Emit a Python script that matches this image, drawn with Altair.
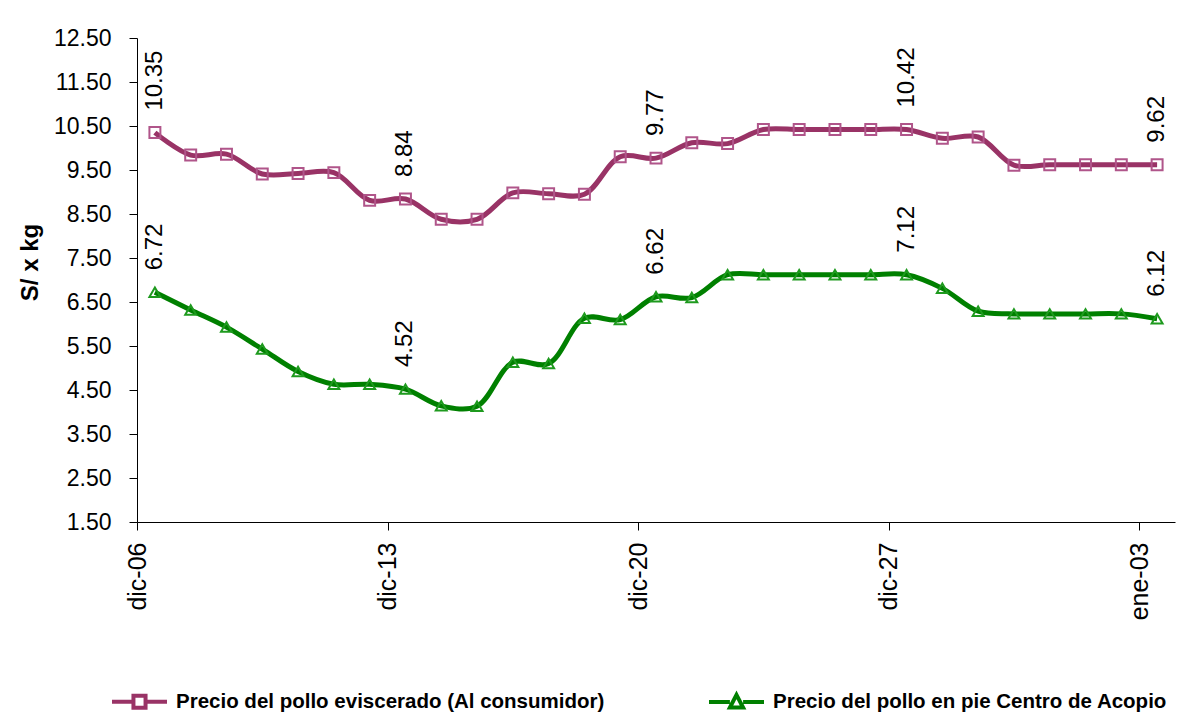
import altair as alt
import pandas as pd

dates = ["dic-06", "dic-07", "dic-08", "dic-09", "dic-10", "dic-11", "dic-12",
         "dic-13", "dic-14", "dic-15", "dic-16", "dic-17", "dic-18", "dic-19",
         "dic-20", "dic-21", "dic-22", "dic-23", "dic-24", "dic-25", "dic-26",
         "dic-27", "dic-28", "dic-29", "dic-30", "dic-31", "ene-01", "ene-02",
         "ene-03"]

eviscerado = [10.35, 9.84, 9.86, 9.41, 9.42, 9.44, 8.81, 8.84, 8.38, 8.38,
              8.98, 8.96, 8.95, 9.80, 9.77, 10.12, 10.10, 10.42, 10.42, 10.42,
              10.42, 10.42, 10.22, 10.25, 9.61, 9.62, 9.62, 9.62, 9.62]

en_pie = [6.72, 6.32, 5.93, 5.43, 4.92, 4.63, 4.63, 4.52, 4.14, 4.13,
          5.13, 5.10, 6.13, 6.10, 6.62, 6.60, 7.12, 7.12, 7.12, 7.12,
          7.12, 7.12, 6.81, 6.29, 6.23, 6.23, 6.23, 6.23, 6.12]

series = ["Precio del pollo eviscerado (Al consumidor)",
          "Precio del pollo en pie Centro de Acopio"]
line_colors = ["#993366", "#008000"]
marker_colors = ["#B0558A", "#1E9A1E"]

rows = []
for s, vals in zip(series, [eviscerado, en_pie]):
    for i, (d, v) in enumerate(zip(dates, vals)):
        rows.append({"i": i, "fecha": d, "serie": s, "precio": v})
df = pd.DataFrame(rows)

legend_df = pd.DataFrame({"serie": series, "i": [None, None], "precio": [None, None]})

W, H = 1038, 484
band = W / len(dates)
tick_vals = list(range(0, len(dates), 7))
label_js = "[" + ",".join("'%s'" % d for d in dates) + "]"
FONT = "Liberation Sans, Arial, sans-serif"

x_enc = alt.X("i:Q",
              scale=alt.Scale(domain=[-0.5, len(dates) - 0.5], nice=False, zero=False),
              axis=alt.Axis(values=tick_vals, labelExpr=label_js + "[datum.value]",
                            tickOffset=-band / 2, labelAngle=270, labelAlign="right",
                            labelBaseline="middle", labelFont=FONT,
                            labelFontSize=25, labelColor="black", labelPadding=12,
                            tickSize=8, tickColor="black", domainColor="black",
                            grid=False, title=None))
y_enc = alt.Y("precio:Q",
              scale=alt.Scale(domain=[1.5, 12.5], nice=False, zero=False),
              axis=alt.Axis(values=[1.5 + k for k in range(12)], format=".2f",
                            labelFont=FONT, labelFontSize=23,
                            labelColor="black", labelPadding=18, tickSize=8,
                            tickColor="black", domainColor="black", grid=False,
                            title="S/ x kg", titleFont=FONT,
                            titleFontSize=24, titleFontWeight="bold", titleColor="black",
                            titleAngle=270, titleX=-107, titleY=224,
                            titleAlign="center", titleBaseline="middle"))

color_scale = alt.Scale(domain=series, range=line_colors)
marker_scale = alt.Scale(domain=series, range=marker_colors)

base = alt.Chart(df)

lines = base.mark_line(strokeWidth=5, interpolate="catmull-rom").encode(
    x=x_enc, y=y_enc,
    color=alt.Color("serie:N", scale=color_scale, legend=None))

pts = base.mark_point(filled=False, strokeWidth=2, size=120, opacity=1).encode(
    x="i:Q", y="precio:Q",
    color=alt.Color("serie:N", scale=marker_scale, legend=None),
    shape=alt.Shape("serie:N", scale=alt.Scale(domain=series, range=["square", "triangle-up"]),
                    legend=None))

labels = base.transform_filter("datum.i % 7 == 0").mark_text(
    angle=270, align="left", baseline="middle", dx=22,
    font=FONT, fontSize=24, color="black").encode(
    x="i:Q", y="precio:Q", text=alt.Text("precio:Q", format=".2f"))

sq = "M-1,0H-0.22M0.22,0H1M-0.22,-0.22H0.22V0.22H-0.22Z"
tri = "M-1,0H-0.24M0.24,0H1M0,-0.26L0.24,0.2H-0.24Z"

legend_layer = alt.Chart(legend_df).mark_point(filled=False).encode(
    x="i:Q", y="precio:Q",
    color=alt.Color("serie:N", scale=color_scale,
                    legend=alt.Legend(orient="none", legendX=-27, legendY=634,
                                      direction="horizontal", columns=2,
                                      title=None, symbolSize=3025,
                                      symbolStrokeWidth=4, labelOffset=7,
                                      labelFont=FONT,
                                      labelFontSize=20.5, labelFontWeight="bold",
                                      labelColor="black", labelLimit=600,
                                      columnPadding=96, symbolOpacity=1)),
    shape=alt.Shape("serie:N", scale=alt.Scale(domain=series, range=[sq, tri])))

chart = alt.layer(lines, pts, labels, legend_layer).resolve_scale(
    color="independent", shape="independent"
).properties(
    width=W, height=H,
    autosize=alt.AutoSizeParams(type="none"),
    padding={"left": 129, "top": 30, "right": 12, "bottom": 190},
    background="white"
).configure_view(stroke=None)

chart.save("out.html", embed_options={"renderer": "svg", "actions": False})
